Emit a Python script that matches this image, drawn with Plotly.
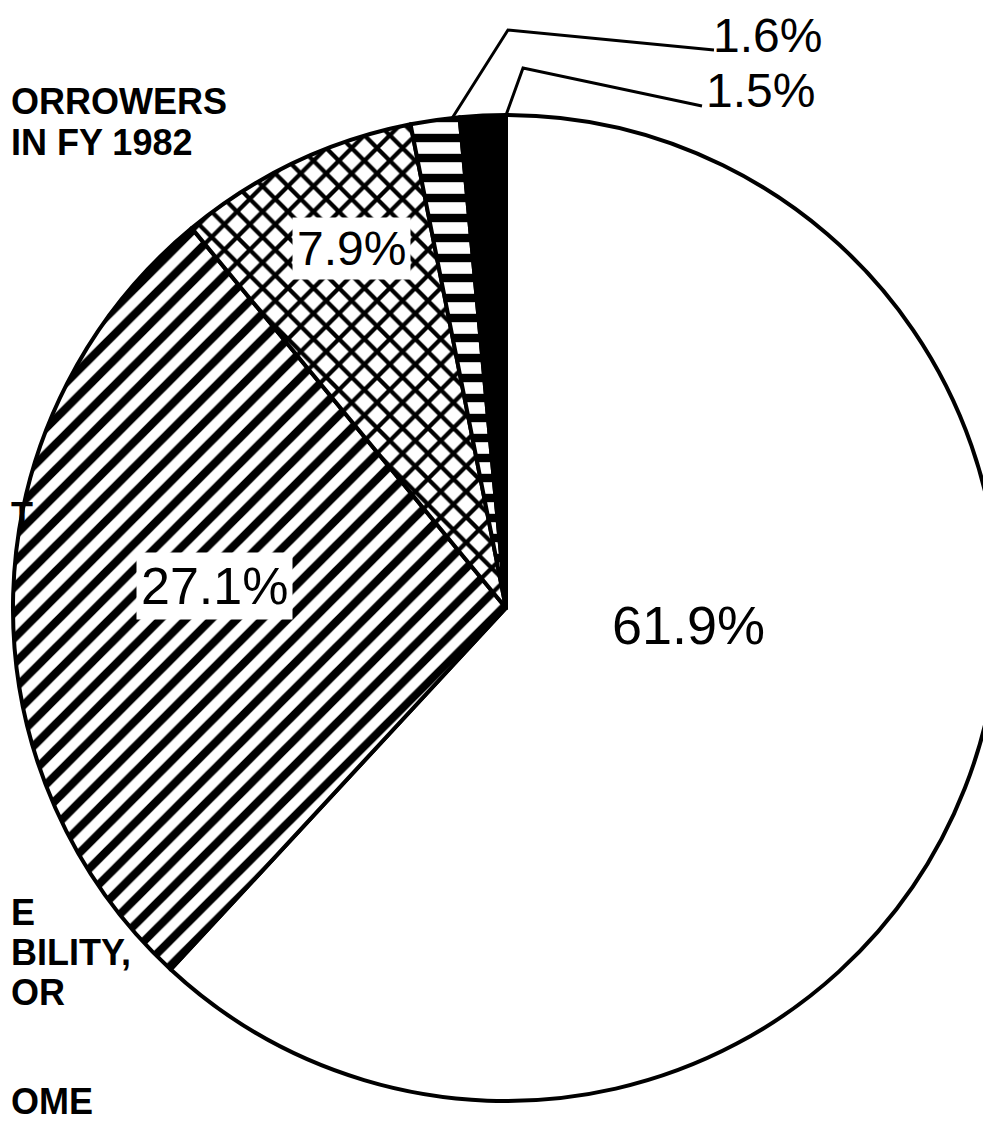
import plotly.graph_objects as go

# ---- data ----
slice_names = ["A", "B", "C", "D", "E"]
slice_values = [61.9, 27.1, 7.9, 1.6, 1.5]
slice_patterns = ["", "/", "x", "-", ""]
slice_colors = ["white", "white", "white", "white", "black"]

left_labels = ["ORROWERS", "IN FY 1982", "T", "E", "BILITY,", "OR", "OME"]

W, H = 991, 1121


def px(x, y):
    return x / W, 1 - y / H


fig = go.Figure()
fig.add_trace(go.Pie(
    labels=slice_names,
    values=slice_values,
    sort=False,
    direction="clockwise",
    rotation=0,
    textinfo="none",
    hoverinfo="skip",
    marker=dict(
        colors=slice_colors,
        line=dict(color="black", width=4),
        pattern=dict(
            shape=slice_patterns,
            fgcolor="black",
            size=[10, 18, 18, 20, 10],
            solidity=[0.3, 0.45, 0.42, 0.42, 0.3],
        ),
    ),
    domain=dict(x=[0.005, 1.0], y=[(H - 1093) / H, (H - 107) / H]),
    showlegend=False,
))

annotations = []
# percentage labels (centres in pixels)
pct_pos = [(680, 617), (206, 578), (343, 241), (759, 28), (752, 83)]
pct_size = [54, 52, 48, 48, 48]
pct_bg = [None, "white", "white", None, None]
for v, (x, y), s, bg in zip(slice_values, pct_pos, pct_size, pct_bg):
    xx, yy = px(x, y)
    a = dict(x=xx, y=yy, xref="paper", yref="paper", text=f"{v:.1f}%",
             showarrow=False, xanchor="center", yanchor="middle",
             font=dict(family="Liberation Sans, Arial, sans-serif", size=s, color="black"))
    if bg:
        a["bgcolor"] = bg
        a["borderpad"] = 4
    annotations.append(a)

# partially visible left-side category labels (left edge, centre y)
left_pos = [(1, 93), (1, 134), (1, 507), (1, 904), (1, 944), (1, 984)]
for t, (x, y) in zip(left_labels[:-1], left_pos):
    xx, yy = px(x, y)
    annotations.append(dict(
        x=xx, y=yy, xref="paper", yref="paper", text="<b>" + t + "</b>",
        showarrow=False, xanchor="left", yanchor="middle",
        font=dict(family="Liberation Sans, Arial, sans-serif", size=36, color="black"),
    ))
xx, yy = px(1, 1116)
annotations.append(dict(
    x=xx, y=yy, xref="paper", yref="paper", text="<b>" + left_labels[-1] + "</b>",
    showarrow=False, xanchor="left", yanchor="bottom",
    font=dict(family="Liberation Sans, Arial, sans-serif", size=36, color="black"),
))

# leader lines for the two small slices
leaders = [[(443, 112), (500, 22), (706, 42)], [(497, 110), (515, 60), (694, 98)]]
shapes = []
for pts in leaders:
    path = "M " + " L ".join(f"{px(x, y)[0]:.4f},{px(x, y)[1]:.4f}" for x, y in pts)
    shapes.append(dict(type="path", path=path, xref="paper", yref="paper",
                       line=dict(color="black", width=3)))

fig.update_layout(
    width=W, height=H,
    margin=dict(l=0, r=0, t=0, b=0),
    paper_bgcolor="white", plot_bgcolor="white",
    annotations=annotations, shapes=shapes,
)

fig.write_html("out.html")
